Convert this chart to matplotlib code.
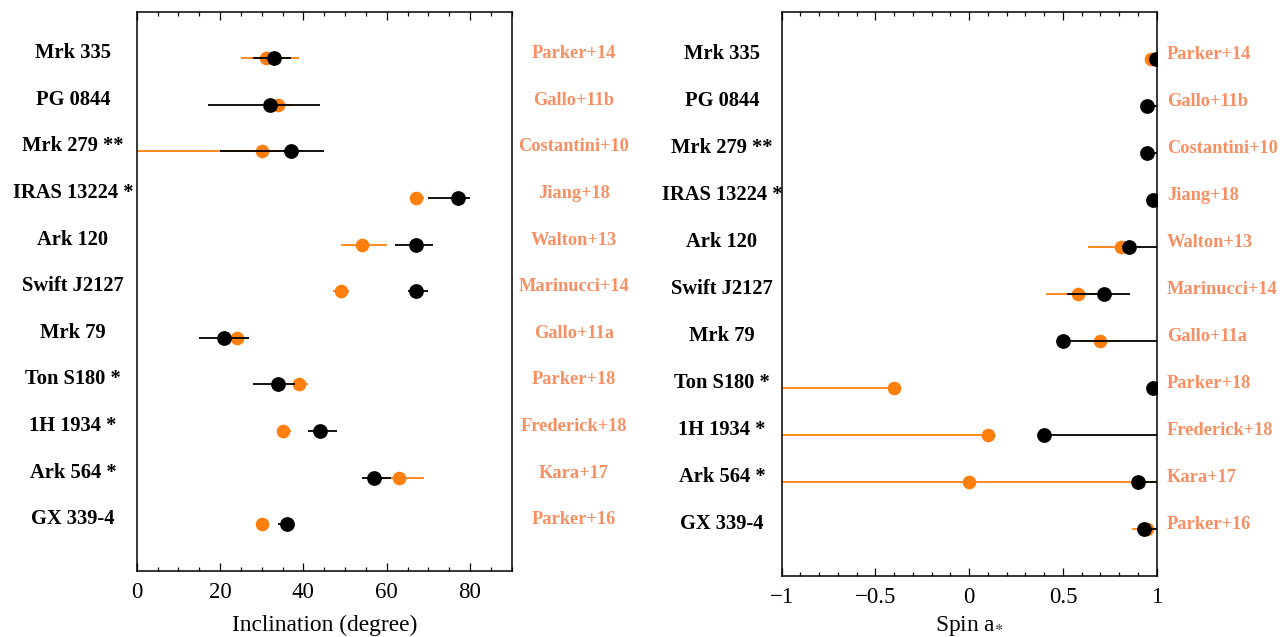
import numpy as np
import matplotlib
matplotlib.use("Agg")
import matplotlib.pyplot as plt
from matplotlib.ticker import MultipleLocator
from matplotlib.transforms import blended_transform_factory

plt.rcParams['font.family'] = ['Liberation Serif', 'DejaVu Serif']
plt.rcParams['mathtext.fontset'] = 'stix'

# Sources (top to bottom) and literature references
sources = ["Mrk 335", "PG 0844", "Mrk 279 **", "IRAS 13224 *", "Ark 120",
           "Swift J2127", "Mrk 79", "Ton S180 *", "1H 1934 *", "Ark 564 *",
           "GX 339-4"]
references = ["Parker+14", "Gallo+11b", "Costantini+10", "Jiang+18", "Walton+13",
              "Marinucci+14", "Gallo+11a", "Parker+18", "Frederick+18", "Kara+17",
              "Parker+16"]

# Inclination (degree): literature values (orange)
inc_lit = [31, 34, 30, 67, 54, 49, 24, 39, 35, 63, 30]
inc_lit_lo = [6, 3, 35, 1, 5, 2, 3, 2, 1, 6, 1]
inc_lit_hi = [8, 3, 10, 2, 6, 2, 3, 2, 2, 6, 1]
# Inclination (degree): this fit (black)
inc_fit = [33, 32, 37, 77, 67, 67, 21, 34, 44, 57, 36]
inc_fit_lo = [5, 15, 17, 7, 5, 2, 6, 6, 3, 3, 2]
inc_fit_hi = [4, 12, 8, 3, 4, 3, 6, 4, 4, 4, 1.5]

# Spin: literature values (orange)
spin_lit = [0.97, np.nan, np.nan, 0.99, 0.81, 0.58, 0.70, -0.40, 0.10, 0.0, 0.95]
spin_lit_lo = [0.02, 0, 0, 0.01, 0.175, 0.17, 0.10, 0.7, 1.2, 1.1, 0.08]
spin_lit_hi = [0.02, 0, 0, 0.01, 0.10, 0.10, 0.10, 0.03, 0.03, 1.0, 0.02]
# Spin: this fit (black)
spin_fit = [0.998, 0.95, 0.95, 0.98, 0.85, 0.72, 0.50, 0.98, 0.40, 0.90, 0.93]
spin_fit_lo = [0.01, 0.01, 0.01, 0.01, 0.03, 0.20, 0.01, 0.01, 0.01, 0.03, 0.01]
spin_fit_hi = [0.002, 0.05, 0.05, 0.02, 0.15, 0.14, 0.50, 0.02, 0.60, 0.10, 0.07]

ORANGE = "#ff7f0e"
REFCOL = "#f78f62"

W, H = 1282, 637
fig = plt.figure(figsize=(W / 100, H / 100), dpi=100)

def frac_box(x0, x1, ytop, ybot):
    return [x0 / W, 1 - ybot / H, (x1 - x0) / W, (ybot - ytop) / H]

ax1 = fig.add_axes(frac_box(136.7, 511.7, 11.7, 570.7))
ax2 = fig.add_axes(frac_box(781.7, 1156.7, 11.7, 576.0))

n = len(sources)
ypos = np.arange(n)[::-1] + 1.0

def draw(ax, lit, lit_lo, lit_hi, fit, fit_lo, fit_hi):
    ax.errorbar(lit, ypos, xerr=[lit_lo, lit_hi], fmt='o', color=ORANGE,
                ms=8.8, elinewidth=1.3, capsize=0, zorder=2)
    ax.errorbar(fit, ypos, xerr=[fit_lo, fit_hi], fmt='o', color='black',
                ms=9.6, elinewidth=1.3, capsize=0, zorder=3)
    ax.set_ylim(0, 12)
    ax.set_yticks([])
    ax.tick_params(axis='x', which='both', direction='in', top=True, bottom=True,
                   labelsize=16.5, pad=8, width=0.9)
    ax.tick_params(axis='x', which='major', length=6)
    ax.tick_params(axis='x', which='minor', length=3)
    for s in ax.spines.values():
        s.set_linewidth(1.1)

draw(ax1, inc_lit, inc_lit_lo, inc_lit_hi, inc_fit, inc_fit_lo, inc_fit_hi)
ax1.set_xlim(0, 90)
ax1.xaxis.set_major_locator(MultipleLocator(20))
ax1.xaxis.set_minor_locator(MultipleLocator(5))
ax1.set_xlabel("Inclination (degree)", fontsize=16.8, labelpad=9)

draw(ax2, spin_lit, spin_lit_lo, spin_lit_hi, spin_fit, spin_fit_lo, spin_fit_hi)
ax2.set_xlim(-1, 1)
ax2.xaxis.set_major_locator(MultipleLocator(0.5))
ax2.xaxis.set_minor_locator(MultipleLocator(0.1))
ax2.set_xticks([-1, -0.5, 0, 0.5, 1])
ax2.set_xticklabels(["\u22121", "\u22120.5", "0", "0.5", "1"])
ax2.set_xlabel(r"Spin a$_{*}$", fontsize=16.8, labelpad=4)

# Source names and references beside each panel
t1 = blended_transform_factory(fig.transFigure, ax1.transData)
t2 = blended_transform_factory(fig.transFigure, ax2.transData)
for y, name, ref in zip(ypos, sources, references):
    fig.text(73 / W, y, name, transform=t1, ha='center', va='baseline',
             fontsize=14.8, fontweight='bold', color='black')
    fig.text(574 / W, y, ref, transform=t1, ha='center', va='baseline',
             fontsize=13.2, fontweight='bold', color=REFCOL)
    fig.text(722 / W, y, name, transform=t2, ha='center', va='baseline',
             fontsize=14.8, fontweight='bold', color='black')
    fig.text(1167 / W, y, ref, transform=t2, ha='left', va='baseline',
             fontsize=13.2, fontweight='bold', color=REFCOL)

fig.savefig("out.png", dpi=100)
